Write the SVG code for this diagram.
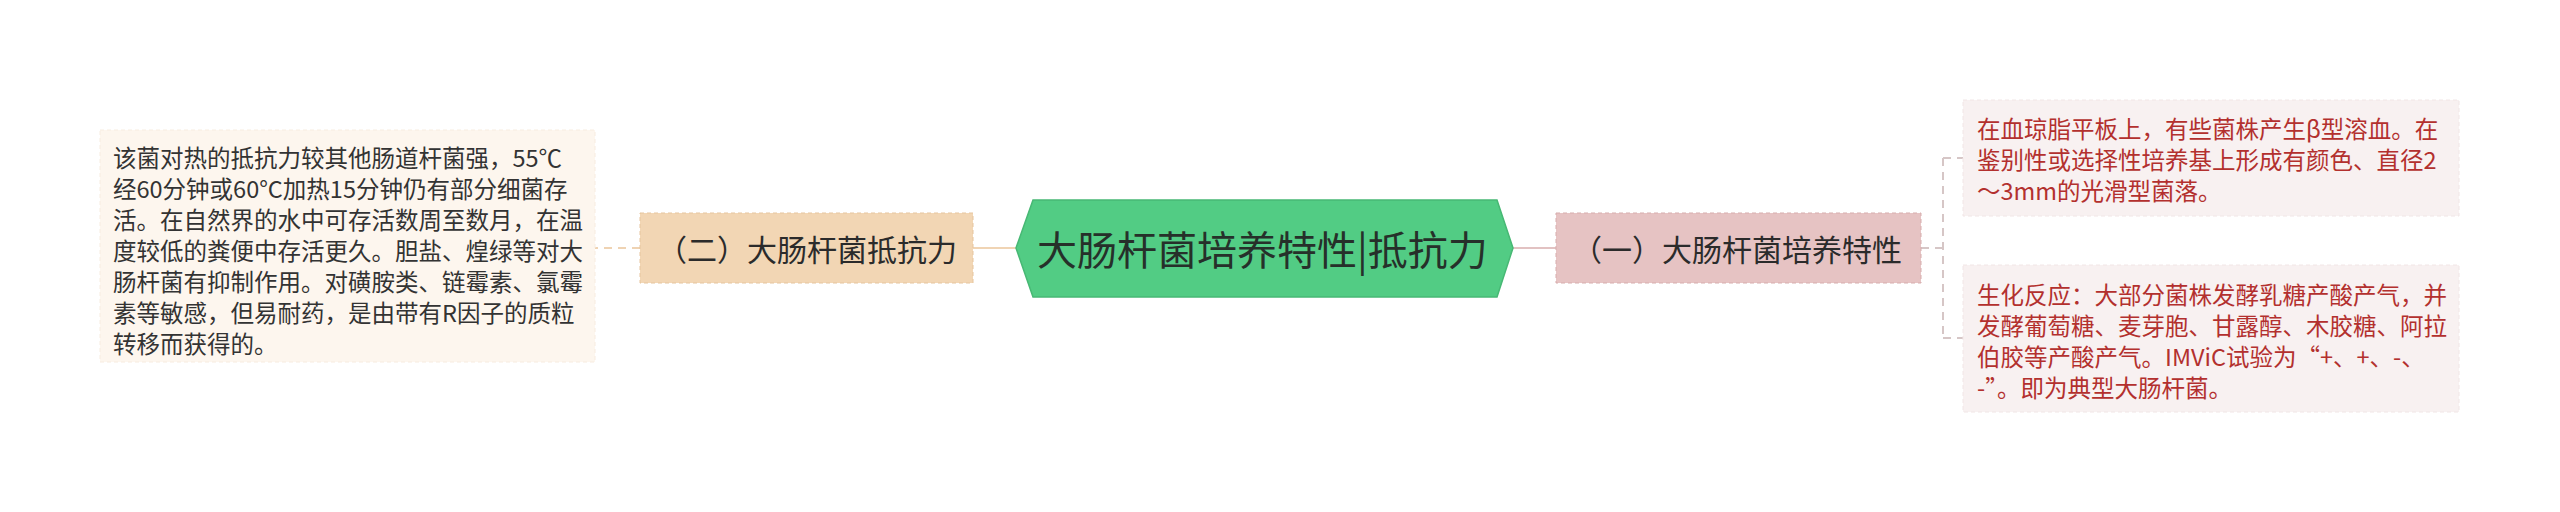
<svg xmlns="http://www.w3.org/2000/svg" width="2560" height="512" viewBox="0 0 2560 512">
<defs>
<style>
.t{font-family:"Noto Sans CJK SC","Noto Sans",sans-serif;dominant-baseline:central}
.body{font-size:23.5px;fill:#333333}
.red{font-size:23.5px;fill:#b3302e}
.sub{font-size:30px;fill:#2b2b2b}
.main{font-size:40px;fill:#26302a}
.conn{fill:none;stroke-width:2}
</style>
</defs>
<rect width="2560" height="512" fill="#ffffff"/>
<g id="connectors">
<line class="conn" x1="1016" y1="248" x2="973" y2="248" stroke="#f0d4b4"/>
<line class="conn" x1="640" y1="248" x2="595" y2="248" stroke="#efd3b3" stroke-dasharray="8 6"/>
<line class="conn" x1="1513" y1="248" x2="1556" y2="248" stroke="#e2c2c2"/>
<path class="conn" d="M1921 248 H1943 M1943 158 V338 M1943 158 H1963 M1943 338 H1963" stroke="#d6c6c6" stroke-dasharray="8 6"/>
</g>
<g id="left-detail">
<rect x="100" y="130" width="495" height="232" fill="#fdf6ee" stroke="#f7ece0" stroke-dasharray="4 3"/>
<text class="t body">
<tspan x="113" y="157">该菌对热的抵抗力较其他肠道杆菌强，55℃</tspan>
<tspan x="113" y="188">经60分钟或60°C加热15分钟仍有部分细菌存</tspan>
<tspan x="113" y="219">活。在自然界的水中可存活数周至数月，在温</tspan>
<tspan x="113" y="250">度较低的粪便中存活更久。胆盐、煌绿等对大</tspan>
<tspan x="113" y="281">肠杆菌有抑制作用。对磺胺类、链霉素、氯霉</tspan>
<tspan x="113" y="312">素等敏感，但易耐药，是由带有R因子的质粒</tspan>
<tspan x="113" y="343">转移而获得的。</tspan>
</text>
</g>
<g id="left-node">
<rect x="640" y="213" width="333" height="70" fill="#f2d6b4" stroke="#e6c59e" stroke-dasharray="4 3"/>
<text class="t sub" x="657" y="248">（二）大肠杆菌抵抗力</text>
</g>
<g id="center-node">
<polygon points="1016,248 1033,200 1497,200 1513,248 1497,297 1033,297" fill="#52cc84" stroke="#47b874" stroke-width="1.5"/>
<text class="t main" x="1037" y="248">大肠杆菌培养特性|抵抗力</text>
</g>
<g id="right-node">
<rect x="1556" y="213" width="365" height="70" fill="#e6c3c3" stroke="#d7adad" stroke-dasharray="4 3"/>
<text class="t sub" x="1572" y="248">（一）大肠杆菌培养特性</text>
</g>
<g id="right-detail-1">
<rect x="1963" y="100" width="496" height="116" fill="#f8f1f1" stroke="#f1e6e6" stroke-dasharray="4 3"/>
<text class="t red">
<tspan x="1977" y="128">在血琼脂平板上，有些菌株产生β型溶血。在</tspan>
<tspan x="1977" y="159">鉴别性或选择性培养基上形成有颜色、直径2</tspan>
<tspan x="1977" y="190">～3mm的光滑型菌落。</tspan>
</text>
</g>
<g id="right-detail-2">
<rect x="1963" y="265" width="496" height="147" fill="#f8f1f1" stroke="#f1e6e6" stroke-dasharray="4 3"/>
<text class="t red">
<tspan x="1977" y="294">生化反应：大部分菌株发酵乳糖产酸产气，并</tspan>
<tspan x="1977" y="325">发酵葡萄糖、麦芽胞、甘露醇、木胶糖、阿拉</tspan>
<tspan x="1977" y="356">伯胶等产酸产气。IMViC试验为“+、+、-、</tspan>
<tspan x="1977" y="387">-”。即为典型大肠杆菌。</tspan>
</text>
</g>
</svg>
